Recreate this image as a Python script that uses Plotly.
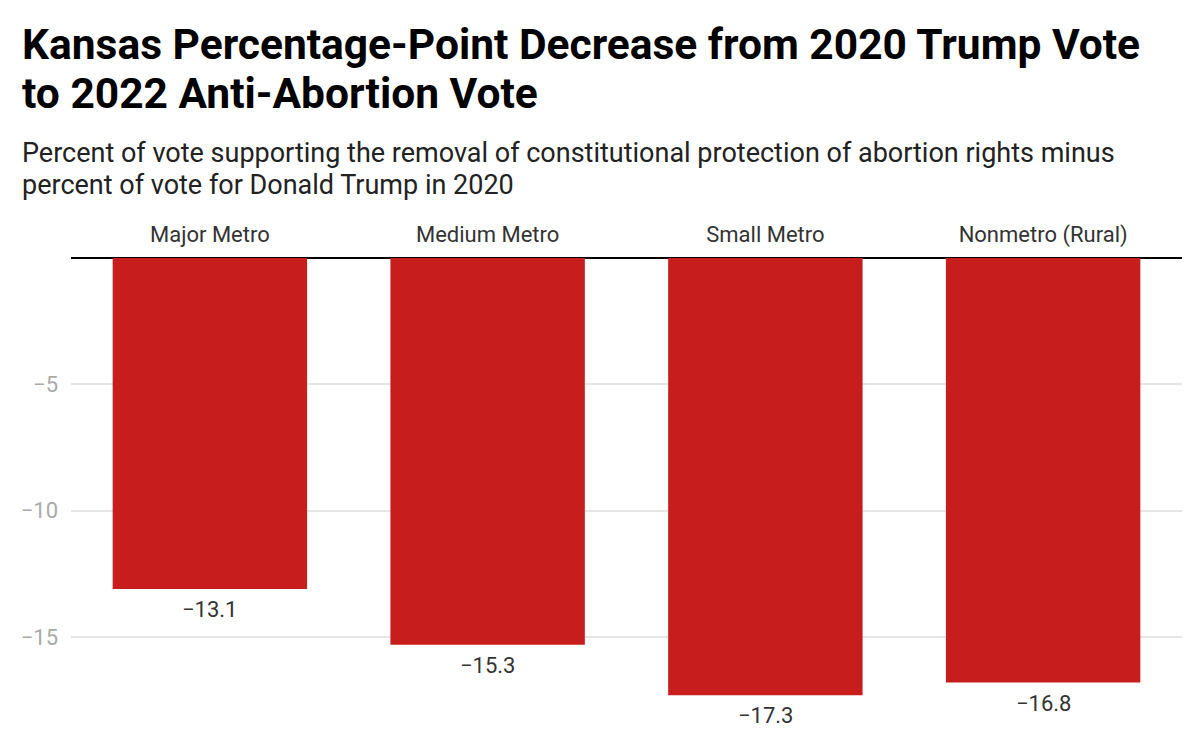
import plotly.graph_objects as go

categories = ["Major Metro", "Medium Metro", "Small Metro", "Nonmetro (Rural)"]
values = [-13.1, -15.3, -17.3, -16.8]
tick_vals = [-5, -10, -15]
tick_text = ["\u22125", "\u221210", "\u221215"]

title_lines = ["Kansas Percentage-Point Decrease from 2020 Trump Vote",
               "to 2022 Anti-Abortion Vote"]
subtitle_lines = ["Percent of vote supporting the removal of constitutional protection of abortion rights minus",
                  "percent of vote for Donald Trump in 2020"]

RED = "#c71e1d"
FONT = "Roboto"

fig = go.Figure()
fig.add_trace(go.Bar(
    x=categories, y=values, marker=dict(color=RED, line=dict(width=0)),
    hoverinfo="skip", showlegend=False,
))

for c, v in zip(categories, values):
    fig.add_annotation(
        x=c, y=v, xref="x", yref="y", text=f"{v:.1f}".replace("-", "\u2212"),
        showarrow=False, yanchor="top", yshift=-6,
        font=dict(family=FONT, size=22, color="#333333"),
    )

W, H = 1200, 754
ML, MR, MT, MB = 71, 18, 258, 10
ph = H - MT - MB
pw = W - ML - MR


def px_y(p):
    return (H - MB - p) / ph


x0 = (20 - ML) / pw
for text, top in zip(title_lines, [18, 67]):
    fig.add_annotation(
        xref="paper", yref="paper", x=x0, y=px_y(top),
        xanchor="left", yanchor="top", align="left", showarrow=False,
        text=f"<b>{text}</b>", font=dict(family=FONT, size=42.5, color="#000000"),
    )
for text, top in zip(subtitle_lines, [135, 167]):
    fig.add_annotation(
        xref="paper", yref="paper", x=x0, y=px_y(top),
        xanchor="left", yanchor="top", align="left", showarrow=False,
        text=text, font=dict(family=FONT, size=27, color="#222222"),
    )

fig.update_layout(
    width=W, height=H,
    margin=dict(l=ML, r=MR, t=MT, b=MB),
    paper_bgcolor="white", plot_bgcolor="white",
    bargap=0.3,
    xaxis=dict(
        side="top", showgrid=False, showline=False, zeroline=False,
        ticks="", tickfont=dict(family=FONT, size=22, color="#333333"),
        ticklabelstandoff=11, fixedrange=True,
    ),
    yaxis=dict(
        range=[-19.23, 0], tickvals=tick_vals, ticktext=tick_text,
        showgrid=True, gridcolor="#e5e5e5", gridwidth=1.5,
        zeroline=True, zerolinecolor="#000000", zerolinewidth=1.5,
        showline=False, ticks="", ticklabelstandoff=12,
        tickfont=dict(family=FONT, size=22, color="#aaaaaa"),
        fixedrange=True,
    ),
)

fig.write_html("out.html")
